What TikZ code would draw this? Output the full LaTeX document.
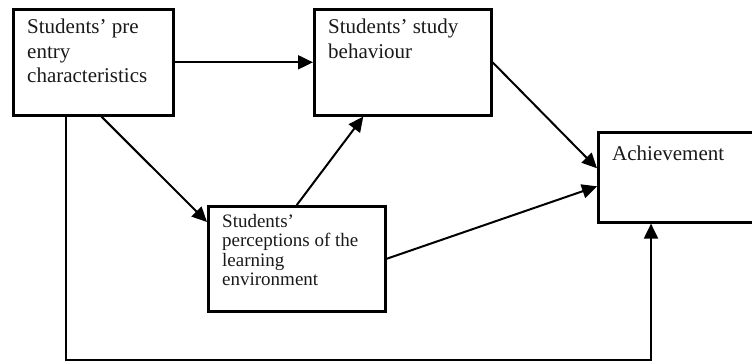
\documentclass[tikz,border=0pt]{standalone}
\usepackage{fontspec}
\setmainfont{Liberation Serif}
\usetikzlibrary{arrows.meta,calc}
\begin{document}
\begin{tikzpicture}[x=1pt,y=-1pt,
  box/.style={draw, line width=2.6pt, anchor=north west, inner sep=0pt},
  boxtext/.style={anchor=north west, inner sep=0pt, align=left, text=black!90},
  bigtxt/.style={font=\fontsize{21}{24.5}\selectfont},
  smalltxt/.style={font=\fontsize{19}{19.5}\selectfont},
  arr/.style={line width=2pt, -{Triangle[length=15pt,width=14pt]}}]
\useasboundingbox (0,0) rectangle (752,363);
\clip (0,0) rectangle (752,363);

% boxes
\node[box, minimum width=160pt, minimum height=106pt] (a) at (12,8) {};
\node[box, minimum width=177pt, minimum height=106pt] (b) at (313,8) {};
\node[box, minimum width=170pt, minimum height=90pt]  (c) at (597,131) {};
\node[box, minimum width=177pt, minimum height=105pt] (d) at (207,205) {};

% box texts
\node[boxtext, bigtxt] (ta) at ([xshift=15pt,yshift=-11pt]a.north west)
  {Students’ pre\\entry\\characteristics};
\node[boxtext, bigtxt] (tb) at ([xshift=15pt,yshift=-11pt]b.north west)
  {Students’ study\\behaviour};
\node[boxtext, bigtxt] (tc) at ([xshift=15pt,yshift=-15pt]c.north west)
  {Achievement};
\node[boxtext, smalltxt] (td) at ([xshift=15pt,yshift=-9pt]d.north west)
  {Students’\\perceptions of the\\learning\\environment};

% connection points
\coordinate (a1) at ($(a.south west)!0.33!(a.south east)$);
\coordinate (a2) at ($(a.south west)!0.55!(a.south east)$);
\coordinate (b1) at ($(b.south west)!0.28!(b.south east)$);
\coordinate (c1) at ([yshift=9pt]c.west);
\coordinate (c2) at ([yshift=-9pt]c.west);
\coordinate (c3) at ([xshift=54pt]c.south west);
\coordinate (d1) at ([yshift=-17pt]d.north west);
\coordinate (low) at (0,360);

% connectors
\draw[arr] (a.east) -- (b.west);
\draw[arr] (b.east) -- (c1);
\draw[arr] (a2) -- (d1);
\draw[arr] (d.north) -- (b1);
\draw[arr] (d.east) -- (c2);
\draw[arr] (a1) -- (a1 |- low) -| (c3);
\end{tikzpicture}
\end{document}
